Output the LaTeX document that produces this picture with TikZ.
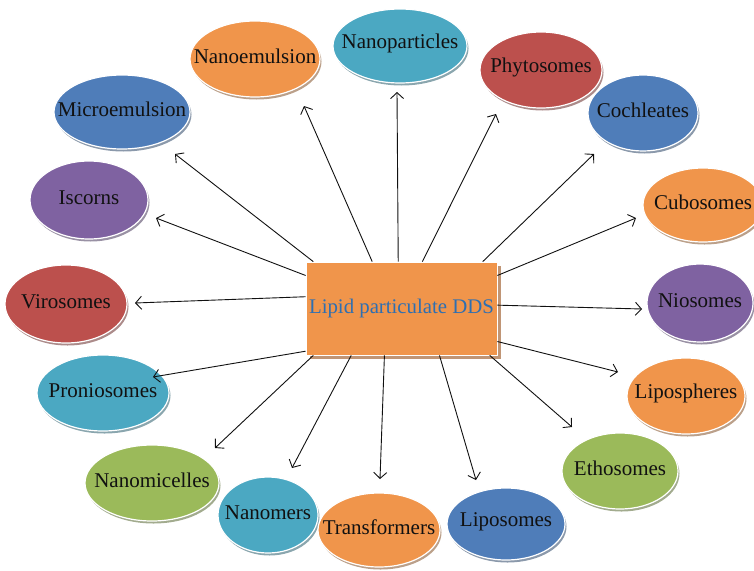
\documentclass[tikz,border=0pt]{standalone}
\usepackage{fontspec}
\setmainfont{Liberation Serif}
\usepackage{tikz}
\usetikzlibrary{arrows.meta,calc,shadows,shapes.geometric}
\definecolor{ink}{HTML}{111111}
\definecolor{orangeacc}{HTML}{F0954B}
\definecolor{aquaacc}{HTML}{4BA8C2}
\definecolor{blueacc}{HTML}{4F7DB9}
\definecolor{redacc}{HTML}{BC504D}
\definecolor{greenacc}{HTML}{9BBA5A}
\definecolor{purpleacc}{HTML}{7F62A1}
\definecolor{ddsblue}{HTML}{2E6FB2}
\definecolor{ddsshadow}{HTML}{B98A66}
\tikzset{
  every node/.style={font=\fontsize{21}{23}\selectfont,text=ink},
  every label/.style={yshift=2.5pt},
  bubble/.style={ellipse,draw=white,line width=1.2pt,fill=#1,inner sep=0pt,
    general shadow={shadow xshift=1.5pt,shadow yshift=-2.5pt,fill=#1!55!black,opacity=.55}},
  hub/.style={rectangle,draw=white,line width=.8pt,fill=orangeacc,inner sep=0pt,
    minimum width=191pt,minimum height=93pt,text=ddsblue,font=\fontsize{20.8}{22}\selectfont,
    general shadow={shadow xshift=4pt,shadow yshift=-4pt,fill=ddsshadow,opacity=.9}},
  arrow/.style={-{Straight Barb[length=6pt,width=13pt]},line width=.9pt,draw=ink}
}
\begin{document}
\begin{tikzpicture}[x=1pt,y=-1pt]
  \useasboundingbox (0,0) rectangle (754,570);

  % outer ring, top to bottom
  \node[bubble=aquaacc,minimum width=134pt,minimum height=74pt,label=center:Nanoparticles] (nanopart) at (400,46) {};
  \node[bubble=orangeacc,minimum width=130pt,minimum height=76pt,label=center:Nanoemulsion] (nanoemul) at (255,59) {};
  \node[bubble=redacc,minimum width=122pt,minimum height=76pt,label=center:Phytosomes] (phyto) at (541,70) {};
  \node[bubble=blueacc,minimum width=136pt,minimum height=74pt,label=center:Microemulsion] (microem) at (122,112) {};
  \node[bubble=blueacc,minimum width=110pt,minimum height=76pt,label=center:Cochleates] (cochle) at (643,113) {};
  \node[bubble=purpleacc,minimum width=118pt,minimum height=78pt,label=center:Iscorns] (iscorn) at (89,200) {};
  \node[bubble=orangeacc,minimum width=120pt,minimum height=74pt,label=center:Cubosomes] (cubo) at (703,205) {};
  \node[bubble=redacc,minimum width=122pt,minimum height=78pt,label=center:Virosomes] (viro) at (66,304) {};
  \node[bubble=purpleacc,minimum width=106pt,minimum height=78pt,label=center:Niosomes] (nioso) at (700,303) {};
  \node[bubble=aquaacc,minimum width=132pt,minimum height=76pt,label=center:Proniosomes] (pronio) at (103,393) {};
  \node[bubble=orangeacc,minimum width=118pt,minimum height=76pt,label=center:Lipospheres] (lipsph) at (686,396) {};
  \node[bubble=greenacc,minimum width=134pt,minimum height=76pt,label=center:Nanomicelles] (nmicel) at (152,483) {};
  \node[bubble=greenacc,minimum width=116pt,minimum height=76pt,label=center:Ethosomes] (etho) at (620,471) {};
  \node[bubble=aquaacc,minimum width=100pt,minimum height=76pt,label=center:Nanomers] (nmer) at (268,515) {};
  \node[bubble=orangeacc,minimum width=122pt,minimum height=74pt,label=center:Transformers] (transf) at (379,530) {};
  \node[bubble=blueacc,minimum width=118pt,minimum height=72pt,label=center:Liposomes] (lipos) at (506,524) {};

  \node[hub] (dds) at (401.5,308.5) {Lipid particulate DDS};

  % arrows out of the hub
  \draw[arrow] (dds.94)    -- ($(nanopart)+(-3,46)$);
  \draw[arrow] (dds.122)   -- ($(nanoemul)+(49,47)$);
  \draw[arrow] (dds.66)    -- ($(phyto)+(-45,44)$);
  \draw[arrow] (dds.152.6) -- ($(microem)+(53,42)$);
  \draw[arrow] (dds.30.6)  -- ($(cochle)+(-49,41)$);
  \draw[arrow] (dds.19.3)  -- ($(cubo)+(-67,13)$);
  \draw[arrow] (dds.161.7) -- ($(iscorn)+(67,18)$);
  \draw[arrow] (dds.173.7) -- ($(viro)+(69,-1)$);
  \draw[arrow] (dds.2.1)   -- ($(nioso)+(-58,6)$);
  \draw[arrow] (dds.-19.9) -- ($(lipsph)+(-68,-24)$);
  \draw[arrow] (dds.-28.3) -- ($(etho)+(-48,-44)$);
  \draw[arrow] (dds.204)   -- ($(pronio)+(50,-16)$);
  \draw[arrow] (dds.208.5) -- ($(nmicel)+(63,-35)$);
  \draw[arrow] (dds.223.2) -- ($(nmer)+(24,-47)$);
  \draw[arrow] (dds.250.5) -- ($(transf)+(1,-51)$);
  \draw[arrow] (dds.309.6) -- ($(lipos)+(-30,-44)$);
\end{tikzpicture}
\end{document}
